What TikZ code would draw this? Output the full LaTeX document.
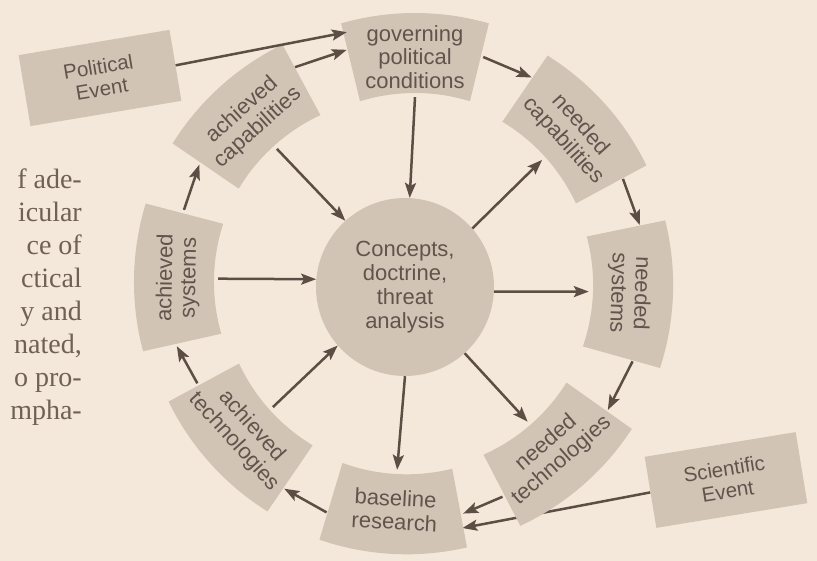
\documentclass[tikz,border=0pt]{standalone}
\usepackage{fontspec}
\setmainfont{Liberation Sans}
\newfontfamily\bookfont{Liberation Serif}
\usetikzlibrary{arrows.meta}
\definecolor{paper}{RGB}{243,232,218}
\definecolor{boxc}{RGB}{210,196,181}
\definecolor{inkc}{RGB}{98,84,76}
\definecolor{arrowc}{RGB}{92,78,68}
\definecolor{bookink}{RGB}{112,96,86}
\pgfdeclarelayer{paperlayer}
\pgfdeclarelayer{under}
\pgfdeclarelayer{fills}
\pgfsetlayers{paperlayer,under,fills,main}
\newcommand{\sectorfill}[3]{%
  \begin{pgfonlayer}{fills}
  \begin{scope}[shift={(#1,-#2)},rotate=#3]
    \begin{scope}[shift={(0,-224)}]
      \fill[boxc] (73:188) arc[start angle=73,end angle=107,radius=188]
        -- (106:268) arc[start angle=106,end angle=74,radius=268] -- cycle;
    \end{scope}
  \end{scope}
  \end{pgfonlayer}}
\begin{document}
\begin{tikzpicture}[x=1pt,y=1pt,
  lbl/.style={font=\fontsize{22}{23.5}\selectfont, text=inkc, align=center,
    inner sep=0pt, minimum width=136pt, minimum height=80pt},
  evt/.style={fill=boxc, font=\fontsize{20.5}{22.5}\selectfont, text=inkc, align=center,
    inner sep=0pt, minimum width=153pt, minimum height=72pt},
  arr/.style={draw=arrowc, line width=2.5pt,
    -{Stealth[length=15pt,width=11pt,inset=3pt]}}]
\begin{pgfonlayer}{paperlayer}
\fill[paper] (0,0) rectangle (817,-561);
\end{pgfonlayer}
\useasboundingbox (0,0) rectangle (817,-561);

% left page text
\node[anchor=north east, align=right, inner sep=0pt, text=bookink,
  font=\bookfont\fontsize{28}{33}\selectfont] (bookt) at (82,-169)
  {f ade-\\icular\\ce of\\ctical\\y and\\nated,\\o pro-\\mpha-};

% ring segments
\sectorfill{415}{57}{0}
\sectorfill{572}{133}{-48}
\sectorfill{629}{293}{-92}
\sectorfill{554}{452}{221}
\sectorfill{395}{510}{177}
\sectorfill{243}{434}{132}
\sectorfill{178}{278}{89}
\sectorfill{250}{119}{42}

\node[lbl, rotate=0]   (gov)   at (415,-57)  {governing\\political\\conditions};
\node[lbl, rotate=-48] (ncap)  at (572,-133) {needed\\capabilities};
\node[lbl, rotate=-92] (nsys)  at (629,-293) {needed\\systems};
\node[lbl, rotate=41]  (ntech) at (554,-452) {needed\\technologies};
\node[lbl, rotate=-3]  (base)  at (395,-510) {baseline\\research};
\node[lbl, rotate=-48] (atech) at (243,-434) {achieved\\technologies};
\node[lbl, rotate=89]  (asys)  at (178,-278) {achieved\\systems};
\node[lbl, rotate=42]  (acap)  at (250,-119) {achieved\\capabilities};

\node[circle, fill=boxc, minimum size=178pt, inner sep=0pt, text=inkc, align=center,
  font=\fontsize{22}{24}\selectfont] (cc) at (405,-287)
  {Concepts,\\doctrine,\\threat\\analysis};

\node[evt, rotate=9.5] (pe) at (100,-78)  {Political\\Event};
\node[evt, rotate=9.3] (se) at (726,-480) {Scientific\\Event};

% connectors
\draw[arr] (pe.east) -- (gov.160);
\draw[arr] (acap.7) -- (gov.174);
\draw[arr] (gov.east) -- (ncap.174);
\draw[arr] (gov.south) -- (cc);
\draw[arr] (cc.41) -- (ncap.south);
\draw[arr] (ncap.6) -- (nsys.173);
\draw[arr] (cc.-3) -- (nsys.south);
\draw[arr] (nsys.5) -- (ntech.-3);
\draw[arr] (cc.-48) -- (ntech.north);
\draw[arr] (ntech.west) -- (base.east);
\begin{pgfonlayer}{under}
\draw[arr] (se.west) -- (base.-12);
\end{pgfonlayer}
\draw[arr] (cc.south) -- (base.north);
\draw[arr] (base.185) -- (atech.-5);
\draw[arr] (atech.west) -- (asys.west);
\draw[arr] (atech.north) -- (cc.221);
\draw[arr] (asys.south) -- (cc.175);
\draw[arr] (asys.-4) -- (acap.west);
\draw[arr] (acap.south) -- (cc.132);
\end{tikzpicture}
\end{document}
